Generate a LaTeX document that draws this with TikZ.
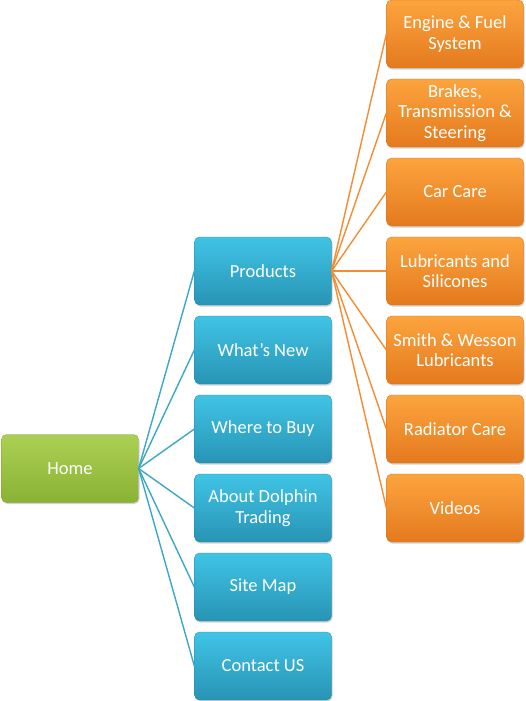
\documentclass[tikz,border=0pt]{standalone}
\usepackage{fontspec}
\setmainfont{Carlito}
\usetikzlibrary{shadows}
\definecolor{gtop}{RGB}{172,208,84}
\definecolor{gbot}{RGB}{138,178,52}
\definecolor{btop}{RGB}{64,196,230}
\definecolor{bbot}{RGB}{40,148,180}
\definecolor{otop}{RGB}{252,164,62}
\definecolor{obot}{RGB}{228,122,30}
\definecolor{bline}{RGB}{58,168,198}
\definecolor{oline}{RGB}{245,140,50}
\begin{document}
\begin{tikzpicture}[x=1pt,y=-1pt,
  box/.style={rounded corners=5pt, minimum width=137pt, minimum height=68pt, align=center,
    text=white, font=\fontsize{18.5}{20.5}\selectfont, inner sep=2pt,
    drop shadow={shadow xshift=1pt, shadow yshift=-1.5pt, opacity=0.35}},
  gbox/.style={box, top color=gtop, bottom color=gbot, draw=gbot!90!black, line width=0.3pt},
  bbox/.style={box, top color=btop, bottom color=bbot, draw=bbot!90!black, line width=0.3pt},
  obox/.style={box, top color=otop, bottom color=obot, draw=obot!90!black, line width=0.3pt},
  bl/.style={draw=bline, line width=1.4pt},
  ol/.style={draw=oline, line width=1.4pt}]
\useasboundingbox (0,0) rectangle (526,701);
\node[gbox] (home) at (70,468.5) {Home};
\node[bbox] (p) at (263,271) {Products};
\node[bbox] (w) at (263,350) {What’s New};
\node[bbox] (b) at (263,429) {Where to Buy};
\node[bbox] (a) at (263,508) {About Dolphin\\Trading};
\node[bbox] (s) at (263,587) {Site Map};
\node[bbox] (c) at (263,666) {Contact US};
\node[obox] (o1) at (455,34) {Engine \& Fuel\\System};
\node[obox] (o2) at (455,113) {Brakes,\\Transmission \&\\Steering};
\node[obox] (o3) at (455,192) {Car Care};
\node[obox] (o4) at (455,271) {Lubricants and\\Silicones};
\node[obox] (o5) at (455,350) {Smith \& Wesson\\Lubricants};
\node[obox] (o6) at (455,429) {Radiator Care};
\node[obox] (o7) at (455,508) {Videos};
\foreach \t in {p,w,b,a,s,c} \draw[bl] (home.east) -- (\t.west);
\foreach \t in {o1,o2,o3,o4,o5,o6,o7} \draw[ol] (p.east) -- (\t.west);
\end{tikzpicture}
\end{document}
